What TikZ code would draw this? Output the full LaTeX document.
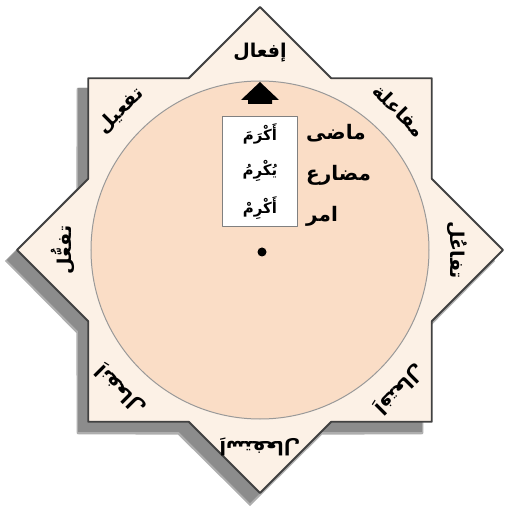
\documentclass[tikz,border=0pt]{standalone}
\usepackage{fontspec}
\newfontfamily\arabicfont[Script=Arabic]{DejaVu Sans}
\TeXXeTstate=1
\definecolor{starfill}{RGB}{252,241,230}
\definecolor{discfill}{RGB}{250,221,198}
\definecolor{shadowgray}{RGB}{140,140,140}
\definecolor{edgegray}{RGB}{65,65,65}
\tikzset{
  wazn/.style={font=\arabicfont\bfseries\fontsize{19}{22}\selectfont, inner sep=1pt},
  form/.style={font=\arabicfont\bfseries\fontsize{15}{18}\selectfont, inner sep=1pt},
  tense/.style={font=\arabicfont\bfseries\fontsize{20}{24}\selectfont, anchor=west, inner sep=0pt},
}
\begin{document}
\begin{tikzpicture}[x=1pt, y=1pt, line join=round, line cap=round]
	\useasboundingbox (-260,-264) rectangle (246,250);
	% sayeh
	\fill[shadowgray!70, shift={(-10,-11)}] (90:245) \foreach \a in {45,0,...,-270} {-- ({\a+22.5}:188) -- (\a:245)} -- cycle;
	\fill[shadowgray, shift={(-10,-10)}] (90:243) \foreach \a in {45,0,...,-270} {-- ({\a+22.5}:186) -- (\a:243)} -- cycle;
	% setareh
	\draw[edgegray, line width=1.8pt, fill=starfill] (90:243) \foreach \a in {45,0,...,-270} {-- ({\a+22.5}:186) -- (\a:243)} -- cycle;
	\draw[gray!80, line width=1pt, fill=discfill] (0,0) circle (169);
	
	% awzan
	\foreach \ang/\wz/\nm in {90/{إفعال}/ifal, 45/{مفاعلة}/mufaala, 0/{تفاعُل}/tafaul, -45/{اِفتعال}/iftial, -90/{اِستفعال}/istifal, -135/{اِنفعال}/infial, -180/{تفعُّل}/tafaaul, -225/{تفعيل}/tafil}
		\node[wazn, rotate=\ang-90] (\nm) at (\ang:197) {\beginR\wz\endR};
	
	% jadval
	\fill (0,168) -- (19,150) -- (12,150) -- (12,146) -- (-12,146) -- (-12,150) -- (-19,150) -- cycle;
	\node[draw=gray, line width=1pt, fill=white, minimum width=75, minimum height=110] (box) at (0,78) {};
	\node[form] (akrama) at (0,116) {\beginR أَكْرَمَ\endR};
	\node[form] (yukrimu) at (0,79) {\beginR يُكْرِمُ\endR};
	\node[form] (akrim) at (0,42) {\beginR أَكْرِمْ\endR};
	\node[tense] (madi) at (46,117) {\beginR ماضى\endR};
	\node[tense] (mudari) at (46,75) {\beginR مضارع\endR};
	\node[tense] (amr) at (46,34) {\beginR امر\endR};
	\fill (2,-2) circle (4.5);
\end{tikzpicture}
\end{document}
